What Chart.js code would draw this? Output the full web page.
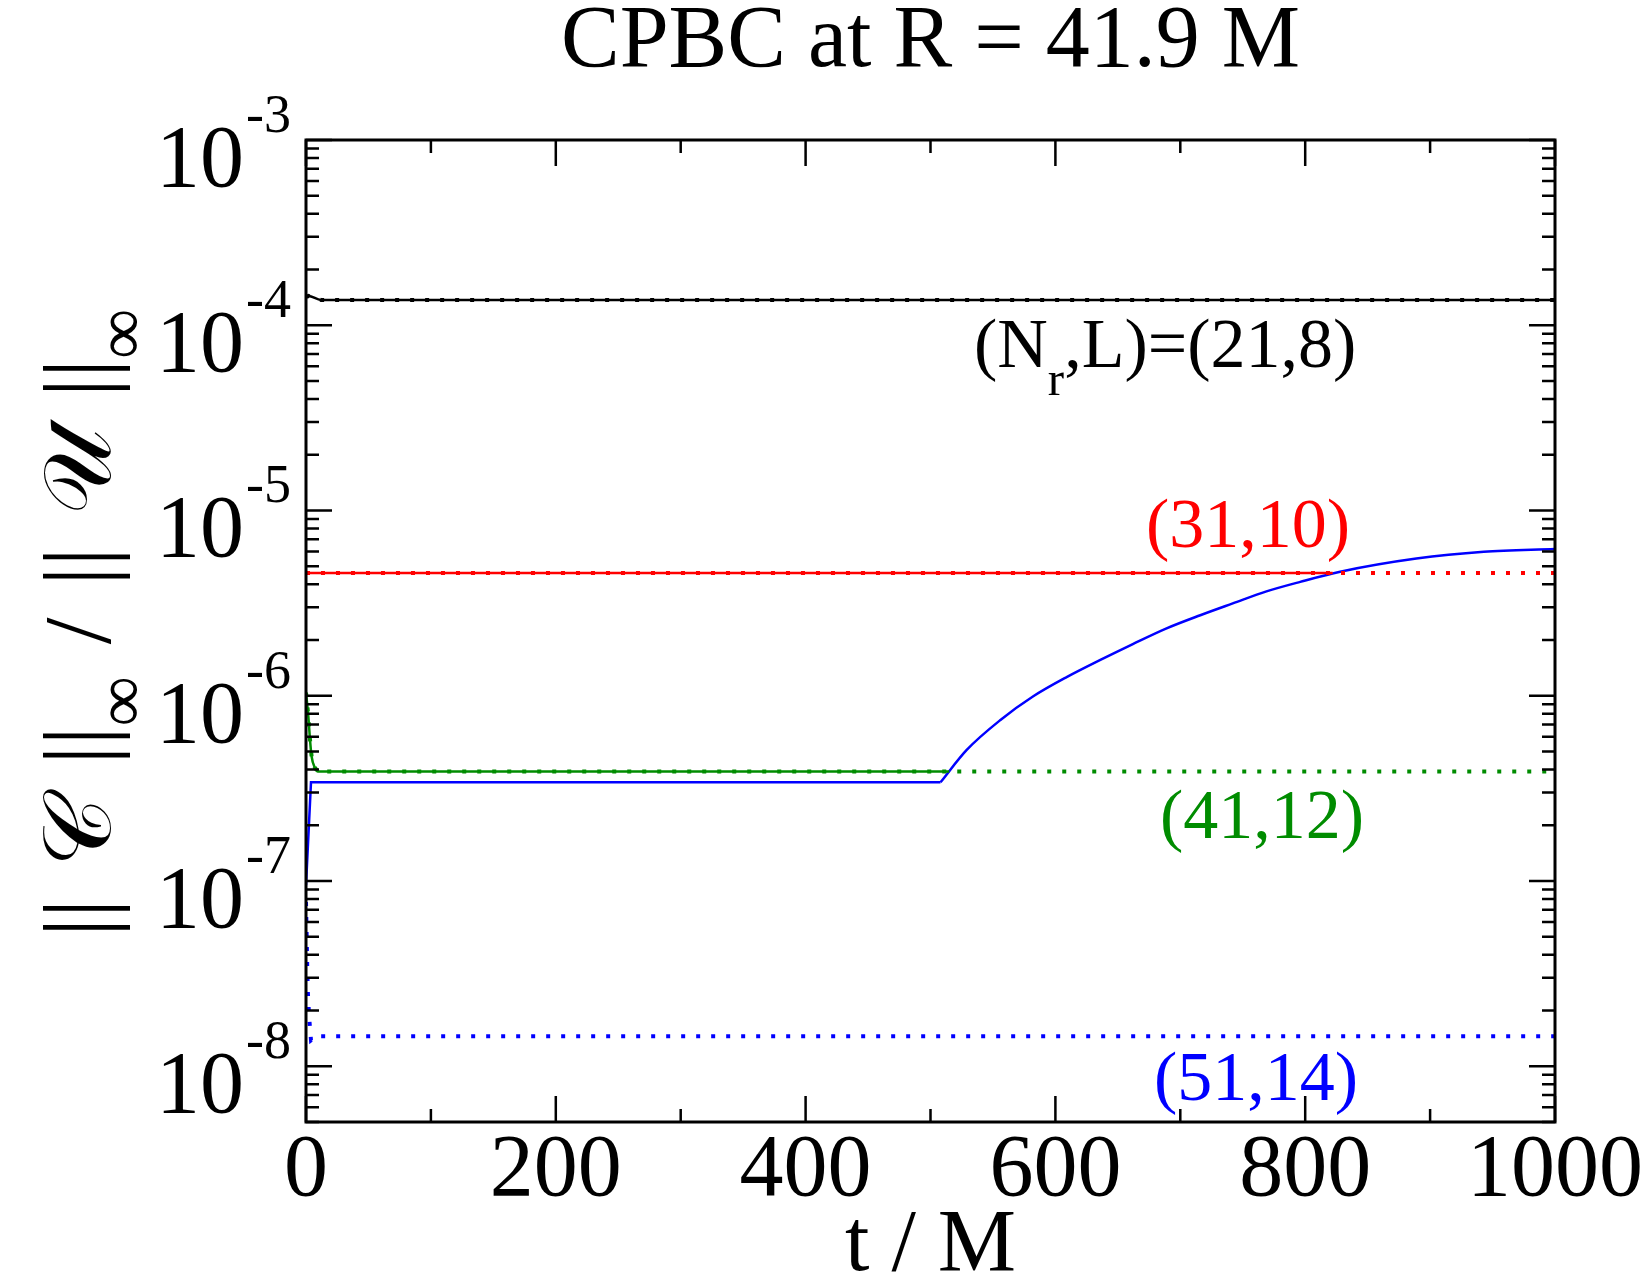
<!DOCTYPE html>
<html>
<head>
<meta charset="utf-8">
<script src="https://cdn.jsdelivr.net/npm/chart.js@4.4.1/dist/chart.umd.min.js"></script>
<style>
  html, body { margin: 0; padding: 0; background: #fff; }
  canvas { display: block; }
</style>
</head>
<body>
<canvas id="chart" width="1650" height="1275"></canvas>
<script>
const chartTitle = 'CPBC at R = 41.9 M'
const xTitle = 't / M'
const xTickValues = [0, 200, 400, 600, 800, 1000]
const xMinorValues = [100, 300, 500, 700, 900]
const yExponents = [-8, -7, -6, -5, -4, -3]

// (Nr,L) = (21,8)
const t21 = [0, 2, 12, 1000]
const c21 = [1.42e-4, 1.44e-4, 1.37e-4, 1.37e-4]

// (31,10)
const t31 = [0, 1000]
const c31 = [4.6e-6, 4.6e-6]
const t31solid = [0, 822]
const c31solid = [4.6e-6, 4.6e-6]

// (41,12)
const t41 = [0, 1.9, 3.2, 4.5, 7, 9.6, 1000]
const c41 = [1.04e-6, 7.7e-7, 5.8e-7, 4.7e-7, 4.1e-7, 3.9e-7, 3.9e-7]
const t41solid = [0, 1.9, 3.2, 4.5, 7, 9.6, 515]
const c41solid = [1.04e-6, 7.7e-7, 5.8e-7, 4.7e-7, 4.1e-7, 3.9e-7, 3.9e-7]

// (51,14)
const t51 = [0, 0.5, 1, 1.5, 2.5, 4, 8, 1000]
const c51 = [7.7e-8, 5.2e-8, 3.4e-8, 2.5e-8, 1.84e-8, 1.38e-8, 1.45e-8, 1.45e-8]
// solid blue: flat part, then the growing part
const t51flat = [0, 4, 508]
const c51flat = [9.5e-8, 3.41e-7, 3.41e-7]
const t51grow = [508, 529, 556, 582, 609, 636, 662, 689, 716, 742, 769, 796, 828, 889, 943, 1000]
const c51grow = [3.41e-7, 5.1e-7, 7.4e-7, 9.9e-7, 1.26e-6, 1.56e-6, 1.9e-6, 2.31e-6,
  2.72e-6, 3.15e-6, 3.66e-6, 4.12e-6, 4.67e-6, 5.5e-6, 5.98e-6, 6.19e-6]

const RED = '#ff0000'
const GREEN = '#008c00'
const BLUE = '#0000ff'
const SERIF = '"Liberation Serif", "Times New Roman", serif'

const pts = (ts, vs) => ts.map((t, i) => ({ x: t, y: vs[i] }))

const solid = (ts, vs, color, width, smooth) => ({
  data: pts(ts, vs),
  borderColor: color,
  borderWidth: width,
  pointRadius: 0,
  cubicInterpolationMode: smooth ? 'monotone' : 'default',
  tension: 0,
})

const dotted = (ts, vs, color) => ({
  data: pts(ts, vs),
  borderColor: color,
  borderWidth: 4,
  borderDash: [4, 11],
  borderCapStyle: 'butt',
  pointRadius: 0,
  tension: 0,
})

function drawRich(ctx, parts, x, y, align) {
  const widthOf = p => {
    if (p.gap) return p.gap
    ctx.font = p.font
    return ctx.measureText(p.text).width
  }
  let w = 0
  parts.forEach(p => { w += widthOf(p) })
  let cx = align === 'center' ? x - w / 2 : x
  ctx.textAlign = 'left'
  parts.forEach(p => {
    if (!p.gap) {
      ctx.font = p.font
      ctx.fillText(p.text, cx, y + (p.dy || 0))
    }
    cx += widthOf(p)
  })
}

const decorations = {
  id: 'decorations',
  afterDatasetsDraw(chart) {
    const { ctx, chartArea: a, scales: { x, y } } = chart
    ctx.save()
    ctx.fillStyle = '#000'
    ctx.strokeStyle = '#000'

    // tick marks on all four sides, pointing inward
    ctx.lineWidth = 2.5
    const xTick = (v, len) => {
      const px = x.getPixelForValue(v)
      ctx.beginPath()
      ctx.moveTo(px, a.bottom); ctx.lineTo(px, a.bottom - len)
      ctx.moveTo(px, a.top); ctx.lineTo(px, a.top + len)
      ctx.stroke()
    }
    const yTick = (v, len) => {
      const py = y.getPixelForValue(v)
      ctx.beginPath()
      ctx.moveTo(a.left, py); ctx.lineTo(a.left + len, py)
      ctx.moveTo(a.right, py); ctx.lineTo(a.right - len, py)
      ctx.stroke()
    }
    xTickValues.forEach(v => xTick(v, 26))
    xMinorValues.forEach(v => xTick(v, 13))
    yExponents.forEach(e => yTick(Math.pow(10, e), 26))
    for (let e = -9; e <= -4; e++) {
      for (let m = 2; m <= 9; m++) {
        const v = m * Math.pow(10, e)
        if (v >= y.min && v <= y.max) yTick(v, 13)
      }
    }

    // frame
    ctx.lineWidth = 3
    ctx.strokeRect(a.left, a.top, a.right - a.left, a.bottom - a.top)

    // x tick labels
    ctx.textBaseline = 'alphabetic'
    ctx.font = '88px ' + SERIF
    ctx.textAlign = 'center'
    xTickValues.forEach(v => ctx.fillText(String(v), x.getPixelForValue(v), 1195))

    // y tick labels 10^e
    yExponents.forEach(e => {
      const py = y.getPixelForValue(Math.pow(10, e))
      ctx.font = '88px ' + SERIF
      ctx.textAlign = 'right'
      ctx.fillText('10', 244, py + 46)
      ctx.font = '54px ' + SERIF
      ctx.textAlign = 'left'
      ctx.fillText('-' + Math.abs(e), 246, py - 8)
    })

    // titles
    const mid = (a.left + a.right) / 2
    ctx.font = '88px ' + SERIF
    ctx.textAlign = 'center'
    ctx.fillText(chartTitle, mid, 66)
    ctx.fillText(xTitle, mid, 1270)

    // y title, rotated
    const big = '96px ' + SERIF
    const sub = '70px ' + SERIF
    const gap = { gap: 32 }
    ctx.save()
    ctx.translate(110, (a.top + a.bottom) / 2 - 8)
    ctx.rotate(-Math.PI / 2)
    drawRich(ctx, [
      { text: '||', font: big }, gap,
      { text: '\u{1D49E}', font: big }, gap,
      { text: '||', font: big },
      { text: '\u221E', font: sub, dy: 34 }, gap,
      { text: '/', font: big }, gap,
      { text: '||', font: big }, gap,
      { text: '\u{1D4B0}', font: big }, gap,
      { text: '||', font: big },
      { text: '\u221E', font: sub, dy: 34 },
    ], 0, 0, 'center')
    ctx.restore()

    // curve labels
    const lab = '70px ' + SERIF
    ctx.fillStyle = '#000'
    drawRich(ctx, [
      { text: '(N', font: lab },
      { text: 'r', font: '49px ' + SERIF, dy: 28 },
      { text: ',L)=(21,8)', font: lab },
    ], 974, 367, 'left')
    ctx.font = lab
    ctx.textAlign = 'center'
    ctx.fillStyle = RED
    ctx.fillText('(31,10)', 1248, 547)
    ctx.fillStyle = GREEN
    ctx.fillText('(41,12)', 1262, 838)
    ctx.fillStyle = BLUE
    ctx.fillText('(51,14)', 1256, 1100)
    ctx.restore()
  }
}

new Chart(document.getElementById('chart'), {
  type: 'line',
  data: {
    datasets: [
      solid(t21, c21, '#000', 2.5, true),
      dotted(t21, c21, '#000'),
      solid(t31solid, c31solid, RED, 2.5, false),
      dotted(t31, c31, RED),
      solid(t41solid, c41solid, GREEN, 2.5, true),
      dotted(t41, c41, GREEN),
      solid(t51flat, c51flat, BLUE, 2.5, false),
      solid(t51grow, c51grow, BLUE, 2.5, true),
      dotted(t51, c51, BLUE),
    ]
  },
  options: {
    responsive: false,
    devicePixelRatio: 1,
    animation: false,
    events: [],
    layout: { padding: { left: 0, top: 140, right: 95, bottom: 0 } },
    plugins: { legend: { display: false }, tooltip: { enabled: false } },
    scales: {
      x: {
        type: 'linear',
        min: 0,
        max: 1000,
        grid: { display: false, drawTicks: false },
        border: { display: false },
        ticks: { display: false },
        afterFit: s => { s.height = 153 },
      },
      y: {
        type: 'logarithmic',
        min: 5e-9,
        max: 1e-3,
        grid: { display: false, drawTicks: false },
        border: { display: false },
        ticks: { display: false },
        afterFit: s => { s.width = 306 },
      }
    }
  },
  plugins: [decorations]
})
</script>
</body>
</html>
